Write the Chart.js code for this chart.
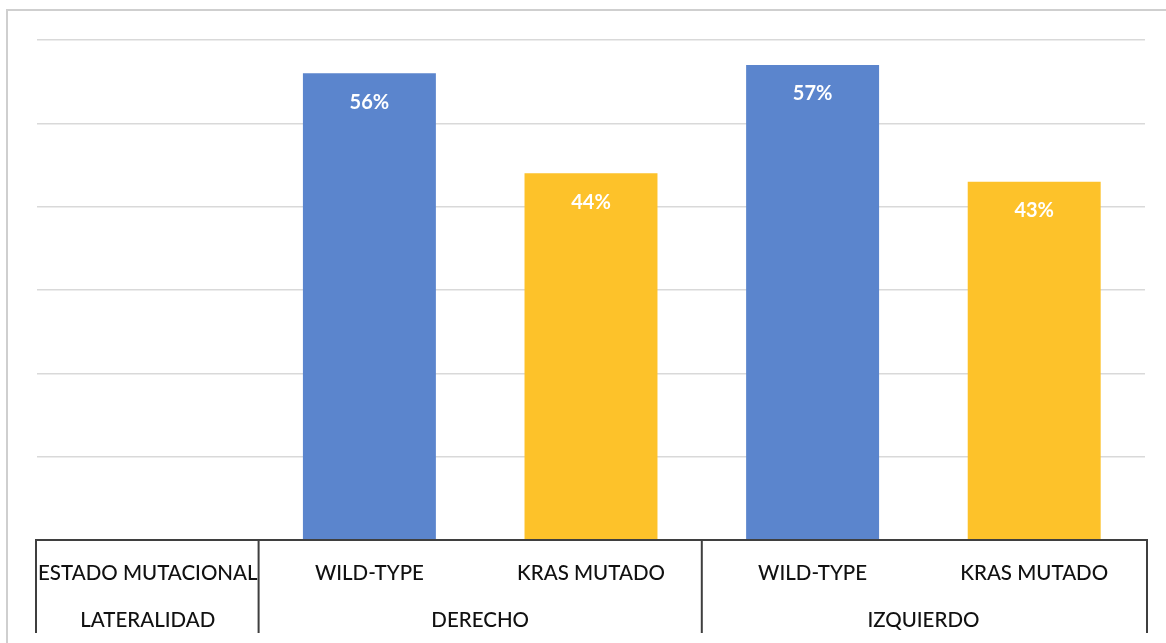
<!DOCTYPE html>
<html>
<head>
<meta charset="utf-8">
<script src="https://cdn.jsdelivr.net/npm/chart.js@4"></script>
<style>
  html, body { margin: 0; padding: 0; background: #fff; }
  #wrap { width: 1166px; height: 643px; }
</style>
</head>
<body>
<div id="wrap"><canvas id="kras" width="1166" height="643"></canvas></div>
<script>
// Bars per column; the first column only holds the row headers
const mutationLabels = ['', 'WILD-TYPE', 'KRAS MUTADO', 'WILD-TYPE', 'KRAS MUTADO'];
const percentValues = [null, 56, 44, 57, 43];
const barColors = ['#5b85cd', '#5b85cd', '#fdc22a', '#5b85cd', '#fdc22a'];
const rowHeaders = ['ESTADO MUTACIONAL', 'LATERALIDAD'];
// side groups: name and how many columns they span
const sideGroups = [['DERECHO', 2], ['IZQUIERDO', 2]];
const yTicks = [0, 10, 20, 30, 40, 50, 60];

const FONT = 'Lato, "Open Sans", sans-serif';

// frame, value labels and the category table under the bars
const tablePlugin = {
  id: 'tablePlugin',
  beforeDraw(chart) {
    const ctx = chart.ctx;
    ctx.save();
    ctx.strokeStyle = '#cfcfcf';
    ctx.lineWidth = 2;
    ctx.beginPath();
    ctx.moveTo(7, 643);
    ctx.lineTo(7, 10);
    ctx.lineTo(1166, 10);
    ctx.stroke();
    ctx.restore();
  },
  afterDraw(chart) {
    const ctx = chart.ctx;
    const x = chart.scales.x;
    const y = chart.scales.y;
    const area = chart.chartArea;
    const half = (x.getPixelForValue(1) - x.getPixelForValue(0)) / 2;
    const edge = i => x.getPixelForValue(i) - half;
    const base = y.getPixelForValue(0);
    const bottom = base + 93;

    ctx.save();
    // value labels inside the bars
    const meta = chart.getDatasetMeta(0);
    ctx.fillStyle = '#ffffff';
    ctx.font = 'bold 20px ' + FONT;
    ctx.textAlign = 'center';
    ctx.textBaseline = 'middle';
    meta.data.forEach((bar, i) => {
      if (percentValues[i] == null) return;
      ctx.fillText(percentValues[i] + '%', bar.x, bar.y + 29);
    });

    // table lines
    ctx.strokeStyle = '#3f3f3f';
    ctx.lineWidth = 2;
    ctx.beginPath();
    ctx.moveTo(area.left - 1, bottom);
    ctx.lineTo(area.left - 1, base);
    ctx.lineTo(area.right + 2, base);
    ctx.lineTo(area.right + 2, bottom);
    let col = 1;
    ctx.moveTo(edge(col), base);
    ctx.lineTo(edge(col), bottom);
    sideGroups.forEach(g => {
      col += g[1];
      if (col < mutationLabels.length) {
        ctx.moveTo(edge(col), base);
        ctx.lineTo(edge(col), bottom);
      }
    });
    ctx.stroke();

    // table text
    ctx.fillStyle = '#111111';
    ctx.font = '500 20.5px ' + FONT;
    const row1 = base + 33;
    const row2 = base + 80;
    ctx.fillText(rowHeaders[0], (edge(0) + edge(1)) / 2, row1);
    ctx.fillText(rowHeaders[1], (edge(0) + edge(1)) / 2, row2);
    mutationLabels.forEach((lab, i) => {
      if (i === 0) return;
      ctx.fillText(lab, x.getPixelForValue(i), row1);
    });
    col = 1;
    sideGroups.forEach(g => {
      ctx.fillText(g[0], (edge(col) + edge(col + g[1])) / 2, row2);
      col += g[1];
    });
    ctx.restore();
  }
};

const chart = new Chart(document.getElementById('kras'), {
  type: 'bar',
  data: {
    labels: mutationLabels,
    datasets: [{
      data: percentValues,
      backgroundColor: barColors,
      borderWidth: 0,
      barPercentage: 0.6,
      categoryPercentage: 1
    }]
  },
  options: {
    responsive: false,
    animation: false,
    devicePixelRatio: 1,
    layout: { padding: { left: 37, right: 21, top: 40, bottom: 103 } },
    plugins: {
      legend: { display: false },
      tooltip: { enabled: false }
    },
    scales: {
      x: { display: false },
      y: {
        min: yTicks[0],
        max: yTicks[yTicks.length - 1],
        afterBuildTicks: axis => { axis.ticks = yTicks.map(v => ({ value: v })); },
        ticks: { display: false },
        border: { display: false },
        grid: { color: '#d9d9d9', lineWidth: 1.5, drawTicks: false }
      }
    }
  },
  plugins: [tablePlugin]
});
</script>
</body>
</html>
